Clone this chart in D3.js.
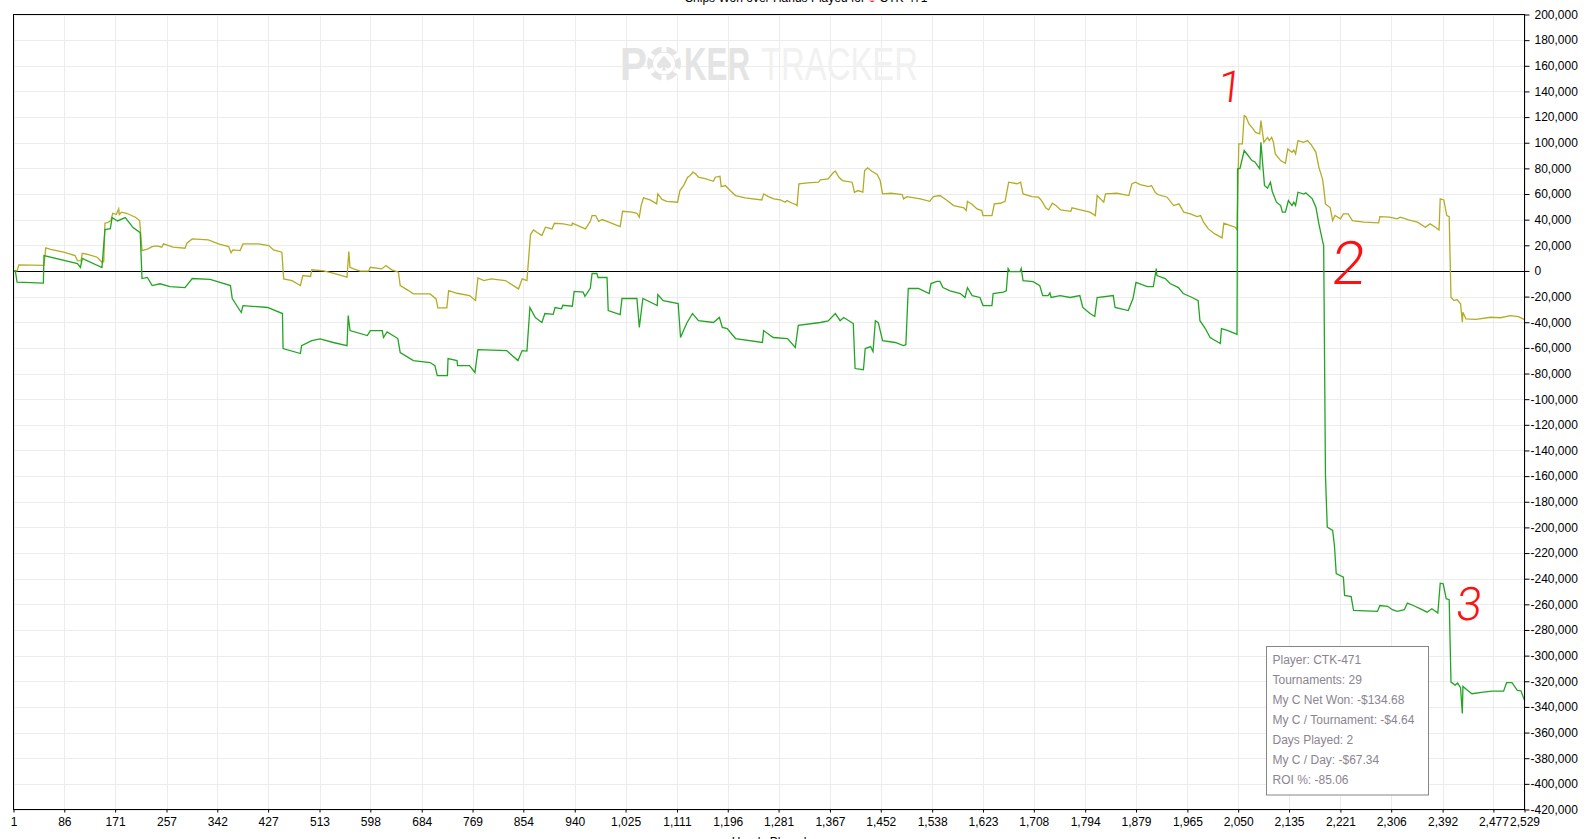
<!DOCTYPE html>
<html>
<head>
<meta charset="utf-8">
<script src="https://cdn.jsdelivr.net/npm/d3@7"></script>
<style>
  html, body { margin: 0; padding: 0; background: #fff; overflow: hidden; }
  svg { display: block; font-family: "Liberation Sans", Arial, sans-serif; }
</style>
</head>
<body>
<div id="chart"></div>
<script>
// [hand, chips] - green line
var chipsWon = [
  [1,0],[4,0],[7,-8800],[51,-9500],[52,12000],[108,5800],[113,2700],[116,9700],[149,2700],[154,32300],
  [163,33000],[166,41600],[175,39000],[188,41600],[201,33800],[213,29900],[216,-5900],[225,-5000],[233,-11400],
  [246,-10000],[263,-12200],[288,-13000],[300,-5900],[330,-6500],[364,-11400],[367,-21500],[382,-32400],
  [385,-27000],[426,-28500],[451,-33200],[452,-60500],[481,-64400],[483,-58200],[500,-54300],[514,-53000],
  [536,-55800],[559,-58200],[561,-34800],[564,-46500],[593,-50400],[598,-46500],[618,-46500],[620,-51900],
  [626,-47500],[644,-52700],[648,-63600],[670,-69900],[698,-71400],[706,-73800],[710,-81600],[727,-81600],
  [728,-68300],[743,-69900],[744,-73800],[764,-73800],[773,-79200],[778,-61300],[826,-62100],[845,-69900],
  [852,-62100],[860,-62500],[865,-28500],[874,-36300],[885,-40200],[890,-33200],[904,-33800],[907,-28500],
  [918,-29500],[920,-26800],[936,-27500],[939,-15900],[954,-16500],[957,-19800],[966,-13600],[969,-2000],
  [977,-2000],[979,-5100],[994,-5100],[996,-30900],[1016,-34000],[1019,-21500],[1044,-21500],[1048,-44100],
  [1054,-21500],[1078,-27000],[1079,-18400],[1088,-23100],[1113,-25400],[1117,-51900],[1122,-46500],
  [1128,-40200],[1137,-33200],[1147,-38800],[1172,-40200],[1182,-36300],[1187,-44100],[1195,-45000],
  [1209,-52700],[1254,-55800],[1256,-46500],[1272,-51900],[1296,-52700],[1309,-59700],[1314,-42400],
  [1351,-40200],[1364,-39000],[1376,-33200],[1384,-38800],[1390,-36300],[1406,-41000],[1409,-76100],
  [1423,-77000],[1426,-60500],[1435,-59000],[1439,-62900],[1443,-38800],[1448,-40500],[1455,-54300],
  [1476,-55800],[1490,-58200],[1494,-57500],[1498,-13700],[1515,-13700],[1533,-17600],[1536,-9800],
  [1546,-8200],[1551,-8200],[1556,-13000],[1568,-15500],[1585,-17600],[1593,-20700],[1597,-13000],
  [1605,-19200],[1618,-20700],[1623,-27000],[1638,-27000],[1640,-17600],[1657,-16500],[1662,-15500],
  [1665,1900],[1668,-500],[1685,-500],[1687,1900],[1690,-7500],[1707,-8300],[1718,-11400],[1723,-19200],
  [1732,-19200],[1735,-17000],[1737,-20700],[1752,-19200],[1769,-20700],[1785,-19200],[1790,-28500],
  [1802,-33200],[1810,-35500],[1814,-20700],[1841,-19200],[1844,-28500],[1866,-30900],[1874,-21500],
  [1879,-9000],[1898,-12200],[1908,-12200],[1913,1900],[1914,-3600],[1928,-5900],[1936,-9800],[1950,-13000],
  [1958,-17600],[1973,-20700],[1983,-23100],[1986,-38800],[1995,-44900],[2003,-51900],[2020,-56600],
  [2022,-44900],[2033,-46500],[2045,-48800],[2048,-49500],[2049,79600],[2053,80000],[2060,93900],
  [2065,91000],[2073,86100],[2078,85000],[2086,79600],[2088,100300],[2094,66600],[2099,64500],[2104,69200],
  [2107,62000],[2114,53600],[2121,51000],[2124,45800],[2129,45800],[2134,54900],[2140,51000],[2143,53600],
  [2146,51000],[2150,61400],[2160,60000],[2163,61000],[2174,56200],[2180,49700],[2185,36700],[2191,23700],
  [2193,19800],[2196,-159500],[2199,-199800],[2208,-202400],[2211,-214100],[2214,-236100],[2226,-238800],
  [2228,-253000],[2239,-254000],[2243,-264800],[2283,-265500],[2287,-260900],[2300,-261500],[2308,-264200],
  [2316,-265500],[2328,-264200],[2333,-259000],[2343,-260900],[2355,-263500],[2366,-266100],[2374,-263500],
  [2384,-266800],[2388,-243500],[2393,-244000],[2398,-255600],[2403,-256400],[2406,-320600],[2413,-323000],
  [2417,-321400],[2422,-325000],[2425,-345100],[2426,-324000],[2432,-326500],[2441,-329700],[2460,-328400],
  [2475,-327700],[2494,-327700],[2499,-321100],[2508,-321100],[2517,-327100],[2523,-327500],[2529,-334900]
];

// [hand, chips] - olive line
var allInAdj = [
  [1,0],[7,0],[10,4700],[52,4300],[55,18000],[63,16800],[85,14600],[104,12000],[108,8100],[114,7900],
  [116,13800],[125,13000],[141,10700],[149,6800],[152,7200],[154,37200],[159,37900],[164,39300],[167,45000],
  [173,44000],[177,48400],[178,44000],[182,45800],[190,45000],[205,41900],[212,39300],[214,28000],[216,15900],
  [225,17000],[233,19000],[241,19500],[249,18500],[252,21100],[268,18500],[288,17700],[291,21600],[300,25000],
  [327,24300],[344,21100],[361,19000],[365,14100],[368,16400],[380,15900],[385,21100],[411,21100],[428,19800],
  [436,16400],[450,14600],[453,-6200],[467,-7500],[481,-11400],[485,-3600],[498,-4300],[500,900],[520,0],
  [537,-1800],[559,-4900],[562,15100],[564,2900],[570,1600],[581,-200],[595,-200],[598,2900],[617,1600],
  [624,4200],[634,900],[645,-1000],[648,-11400],[662,-15300],[670,-17900],[698,-17900],[708,-21800],
  [711,-28800],[726,-28800],[729,-15300],[743,-17400],[764,-19200],[774,-23100],[778,-5400],[788,-7500],
  [800,-6200],[824,-7500],[846,-14000],[852,-6200],[860,-7500],[866,28400],[871,32000],[877,30000],
  [885,27600],[891,34100],[902,32800],[906,37200],[921,36700],[935,35400],[936,37200],[949,34600],
  [958,32800],[966,38700],[969,43200],[975,43200],[980,38700],[986,40100],[997,38000],[1016,34600],
  [1020,46500],[1036,45800],[1044,45000],[1048,41900],[1051,51000],[1055,57000],[1066,55400],[1077,52300],
  [1079,60100],[1086,55800],[1094,54300],[1112,53600],[1116,62700],[1122,66600],[1129,73100],[1133,74400],
  [1138,77000],[1142,75800],[1147,73100],[1158,72000],[1172,69900],[1175,73100],[1183,73800],[1185,65800],
  [1192,66600],[1200,62700],[1209,58800],[1225,57000],[1253,55400],[1256,60100],[1264,58000],[1273,56200],
  [1284,55400],[1292,53600],[1295,54900],[1304,52800],[1310,51800],[1312,51000],[1315,67900],[1330,68700],
  [1348,69200],[1351,71000],[1364,71800],[1373,77000],[1376,77800],[1382,73100],[1388,70500],[1404,69200],
  [1408,61400],[1414,62700],[1422,61400],[1425,78300],[1430,80400],[1437,77800],[1446,75200],[1451,70500],
  [1455,60100],[1469,60600],[1488,59600],[1490,56200],[1496,58000],[1518,56200],[1534,54300],[1540,58000],
  [1551,58800],[1563,54900],[1574,51000],[1591,49200],[1595,47100],[1597,54300],[1605,51800],[1613,48400],
  [1621,47100],[1623,43200],[1638,43200],[1642,52300],[1652,52800],[1660,54300],[1666,69200],[1680,68000],
  [1686,69200],[1690,60100],[1705,58000],[1716,57500],[1721,54900],[1728,49200],[1733,47600],[1739,52800],
  [1745,51000],[1753,47600],[1770,46500],[1772,49200],[1786,47600],[1802,45800],[1811,43200],[1814,58800],
  [1825,53600],[1828,60100],[1847,60600],[1867,58800],[1872,67900],[1878,69200],[1886,67300],[1900,65800],
  [1905,66600],[1911,61400],[1915,59600],[1931,57500],[1942,51000],[1951,52300],[1959,45800],[1970,44500],
  [1981,42400],[1987,43200],[1992,38000],[2000,32800],[2011,28900],[2023,25800],[2026,37200],[2037,35400],
  [2045,34100],[2048,32000],[2051,99100],[2057,99100],[2060,121100],[2063,120300],[2068,114700],
  [2073,112000],[2079,108100],[2086,106900],[2088,117200],[2091,106900],[2093,100300],[2099,104200],
  [2102,101700],[2106,104200],[2109,100300],[2112,91300],[2121,86100],[2129,84000],[2133,95200],[2140,92500],
  [2143,94300],[2146,91300],[2150,101700],[2159,100300],[2166,101700],[2172,98600],[2180,92500],[2185,80800],
  [2191,71800],[2193,65200],[2196,52300],[2204,49200],[2208,39300],[2212,43200],[2221,40600],[2226,44500],
  [2234,44500],[2241,39300],[2260,38000],[2285,37500],[2287,42400],[2303,41900],[2316,40600],[2321,41900],
  [2335,39800],[2350,38000],[2363,34100],[2371,36700],[2380,34100],[2386,32000],[2388,56200],[2394,55400],
  [2399,43200],[2403,42400],[2406,-20500],[2411,-23100],[2416,-22300],[2422,-25600],[2425,-40000],
  [2426,-32200],[2431,-37300],[2448,-37800],[2472,-36100],[2489,-36500],[2505,-34800],[2519,-35600],
  [2529,-38000]
];

var xTicks = [1, 86, 171, 257, 342, 427, 513, 598, 684, 769, 854, 940, 1025, 1111, 1196, 1281, 1367,
  1452, 1538, 1623, 1708, 1794, 1879, 1965, 2050, 2135, 2221, 2306, 2392, 2477, 2529];
var yTicks = d3.range(-420000, 200001, 20000);

var statLines = ["Player: CTK-471", "Tournaments: 29", "My C Net Won: -$134.68",
  "My C / Tournament: -$4.64", "Days Played: 2", "My C / Day: -$67.34", "ROI %: -85.06"];

// marks drawn in red on the screenshot: [label, hand, chips]
var notes = [["1", 2034, 132000], ["2", 2232, -9800], ["3", 2434, -272500]];

var width = 1591, height = 839;
var plot = { left: 13.5, right: 1524.5, top: 14.5, bottom: 809.5 };

var svg = d3.select("#chart").append("svg")
  .attr("width", width)
  .attr("height", height);

var x = d3.scaleLinear().domain([1, 2529]).range([plot.left, plot.right]);
var y = d3.scaleLinear().domain([-420000, 200000]).range([plot.bottom, plot.top]);

// grid
var grid = svg.append("g").attr("stroke", "#ececec").attr("stroke-width", 1);
grid.selectAll(".vg").data(xTicks).enter().append("line")
  .attr("x1", d => Math.round(x(d)) + 0.5).attr("x2", d => Math.round(x(d)) + 0.5)
  .attr("y1", plot.top).attr("y2", plot.bottom);
grid.selectAll(".hg").data(yTicks).enter().append("line")
  .attr("x1", plot.left).attr("x2", plot.right)
  .attr("y1", d => Math.round(y(d)) + 0.5).attr("y2", d => Math.round(y(d)) + 0.5);

// watermark: each word squeezed to its width with a horizontal scale
// [text, left x, width, bold, colour]
var wmParts = [["P", 620, 27, true, "#e4e4e4"], ["KER", 684, 66, true, "#e4e4e4"],
  ["TRACKER", 761, 157, false, "#f1f1f1"]];
wmParts.forEach(function (p) {
  var t = svg.append("text")
    .attr("font-size", 46)
    .attr("font-family", "'Liberation Sans', Arial, sans-serif")
    .attr("font-weight", p[3] ? "bold" : "normal")
    .attr("fill", p[4])
    .text(p[0]);
  var w = t.node().getComputedTextLength();
  t.attr("transform", `translate(${p[1]},80) scale(${p[2] / w},1)`);
});

var chip = svg.append("g").attr("transform", "translate(664,63.5)");
chip.append("circle").attr("r", 17).attr("fill", "#e4e4e4");
chip.append("circle").attr("r", 11).attr("fill", "#fff");
[0, 60, 120, 180, 240, 300].forEach(function (a) {
  chip.append("rect").attr("x", -2.5).attr("y", -17.5).attr("width", 5).attr("height", 6)
    .attr("fill", "#fff").attr("transform", "rotate(" + a + ")");
});
chip.append("path").attr("fill", "#e4e4e4")
  .attr("d", "M0,-8 C3,-4 7,-1 7,2 C7,5 3,6 1,3 L2,7 L-2,7 L-1,3 C-3,6 -7,5 -7,2 C-7,-1 -3,-4 0,-8 Z");

// zero line
svg.append("line")
  .attr("x1", plot.left).attr("x2", plot.right)
  .attr("y1", Math.round(y(0)) + 0.5).attr("y2", Math.round(y(0)) + 0.5)
  .attr("stroke", "#000").attr("stroke-width", 1);

// lines
var line = d3.line().x(d => x(d[0])).y(d => y(d[1]));

svg.append("path").datum(allInAdj)
  .attr("fill", "none").attr("stroke", "#b3ac25").attr("stroke-width", 1.3)
  .attr("d", line);

svg.append("path").datum(chipsWon)
  .attr("fill", "none").attr("stroke", "#22a522").attr("stroke-width", 1.3)
  .attr("d", line);

// frame
svg.append("rect")
  .attr("x", plot.left).attr("y", plot.top)
  .attr("width", plot.right - plot.left).attr("height", plot.bottom - plot.top)
  .attr("fill", "none").attr("stroke", "#000").attr("stroke-width", 1);

// axes
var xAxis = d3.axisBottom(x).tickValues(xTicks).tickSize(3).tickPadding(5).tickFormat(d3.format(","));
var gx = svg.append("g").attr("transform", `translate(0, ${plot.bottom})`).call(xAxis);
gx.select(".domain").remove();
gx.selectAll("text").attr("font-size", 12).attr("font-family", "'Liberation Sans', Arial, sans-serif").attr("fill", "#000");
gx.selectAll("line").attr("stroke", "#000");

var yAxis = d3.axisRight(y).tickValues(yTicks).tickSize(5).tickFormat(d3.format(","));
var gy = svg.append("g").attr("transform", `translate(${plot.right}, 0)`).call(yAxis);
gy.select(".domain").remove();
gy.selectAll("text").attr("font-size", 12).attr("font-family", "'Liberation Sans', Arial, sans-serif")
  .attr("fill", "#000").attr("x", d => d < 0 ? 6 : 10).text(d => d3.format(",")(d).replace("\u2212", "-"));
gy.selectAll("line").attr("stroke", "#000");

// axis title, mostly cut off by the bottom edge
svg.append("text")
  .attr("x", (plot.left + plot.right) / 2).attr("y", 846)
  .attr("text-anchor", "middle").attr("font-size", 12)
  .text("Hands Played");

// chart title, cut off by the top edge
var title = svg.append("text")
  .attr("x", 806).attr("y", 2)
  .attr("text-anchor", "middle").attr("font-size", 12);
title.append("tspan").text("Chips Won over Hands Played for ");
title.append("tspan").attr("fill", "#e02020").text("\u2663");
title.append("tspan").text(" CTK-471");

// stats box
var box = svg.append("g").attr("transform", "translate(1266.5, 646.5)");
box.append("rect").attr("width", 162).attr("height", 148.5)
  .attr("fill", "#fff").attr("stroke", "#858585").attr("stroke-width", 1);
box.selectAll("text").data(statLines).enter().append("text")
  .attr("x", 6).attr("y", (d, i) => 17 + i * 20)
  .attr("font-size", 12).attr("fill", "#8b8490")
  .text(d => d);

// red hand-written numbers
svg.selectAll(".note").data(notes).enter().append("text")
  .attr("class", "note")
  .attr("transform", d => `translate(${x(d[1])},${y(d[2])}) skewX(-6)`)
  .attr("text-anchor", "middle")
  .attr("font-family", "Roboto, 'Liberation Sans', sans-serif")
  .attr("font-weight", 300)
  .attr("font-size", (d, i) => [44, 60, 46][i])
  .attr("fill", "#ff1010")
  .text(d => d[0]);
</script>
</body>
</html>
